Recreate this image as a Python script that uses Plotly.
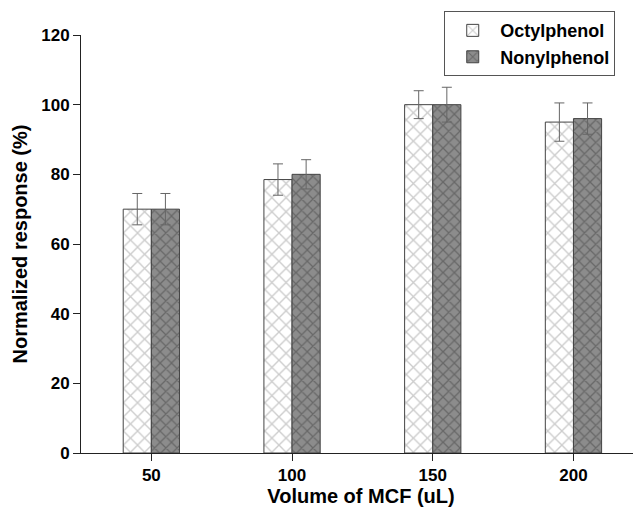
import plotly.graph_objects as go

volumes = [50, 100, 150, 200]
octyl = [70, 78.5, 100, 95]
octyl_err = [4.5, 4.5, 4, 5.5]
nonyl = [70, 80, 100, 96]
nonyl_err = [4.5, 4.2, 5, 4.5]
y_ticks = [0, 20, 40, 60, 80, 100, 120]

fig = go.Figure()
fig.add_trace(go.Bar(
    x=volumes, y=octyl, name="Octylphenol",
    marker=dict(color="white", line=dict(color="#444", width=1),
                pattern=dict(shape="x", bgcolor="white", fgcolor="#999999", size=10, solidity=0.25)),
    error_y=dict(type="data", array=octyl_err, color="#666", thickness=1, width=5),
))
fig.add_trace(go.Bar(
    x=volumes, y=nonyl, name="Nonylphenol",
    marker=dict(color="#808080", line=dict(color="#444", width=1),
                pattern=dict(shape="x", bgcolor="#8c8c8c", fgcolor="#444444", size=8, solidity=0.3)),
    error_y=dict(type="data", array=nonyl_err, color="#666", thickness=1, width=5),
))

font_family = "Liberation Sans, Arial, sans-serif"
fig.update_layout(
    width=633, height=503,
    margin=dict(l=73, r=0, t=27, b=58),
    paper_bgcolor="white", plot_bgcolor="white",
    barmode="group", bargap=0.6, bargroupgap=0,
    font=dict(family=font_family, color="black"),
    showlegend=True,
    legend=dict(x=0.954, y=1.057, xanchor="right", yanchor="top",
                bordercolor="#555", borderwidth=1, bgcolor="white",
                font=dict(size=18, family=font_family, weight="bold"),
                tracegroupgap=0, itemwidth=45),
    xaxis=dict(range=[25, 224], tickvals=volumes, ticktext=[str(v) for v in volumes],
               showline=True, linecolor="#222", linewidth=1, ticks="outside", ticklen=7,
               tickcolor="#222", showgrid=False, zeroline=False, automargin=False,
               tickfont=dict(size=17, weight="bold"),
               title=dict(text="Volume of MCF (uL)", font=dict(size=20, weight="bold"), standoff=2)),
    yaxis=dict(range=[0, 120], tickvals=y_ticks,
               showline=True, linecolor="#222", linewidth=1, ticks="outside", ticklen=7,
               tickcolor="#222", showgrid=False, zeroline=False, automargin=False,
               tickfont=dict(size=17, weight="bold"),
               title=dict(text="Normalized response (%)", font=dict(size=20, weight="bold"), standoff=8)),
)
fig.write_html("out.html")
